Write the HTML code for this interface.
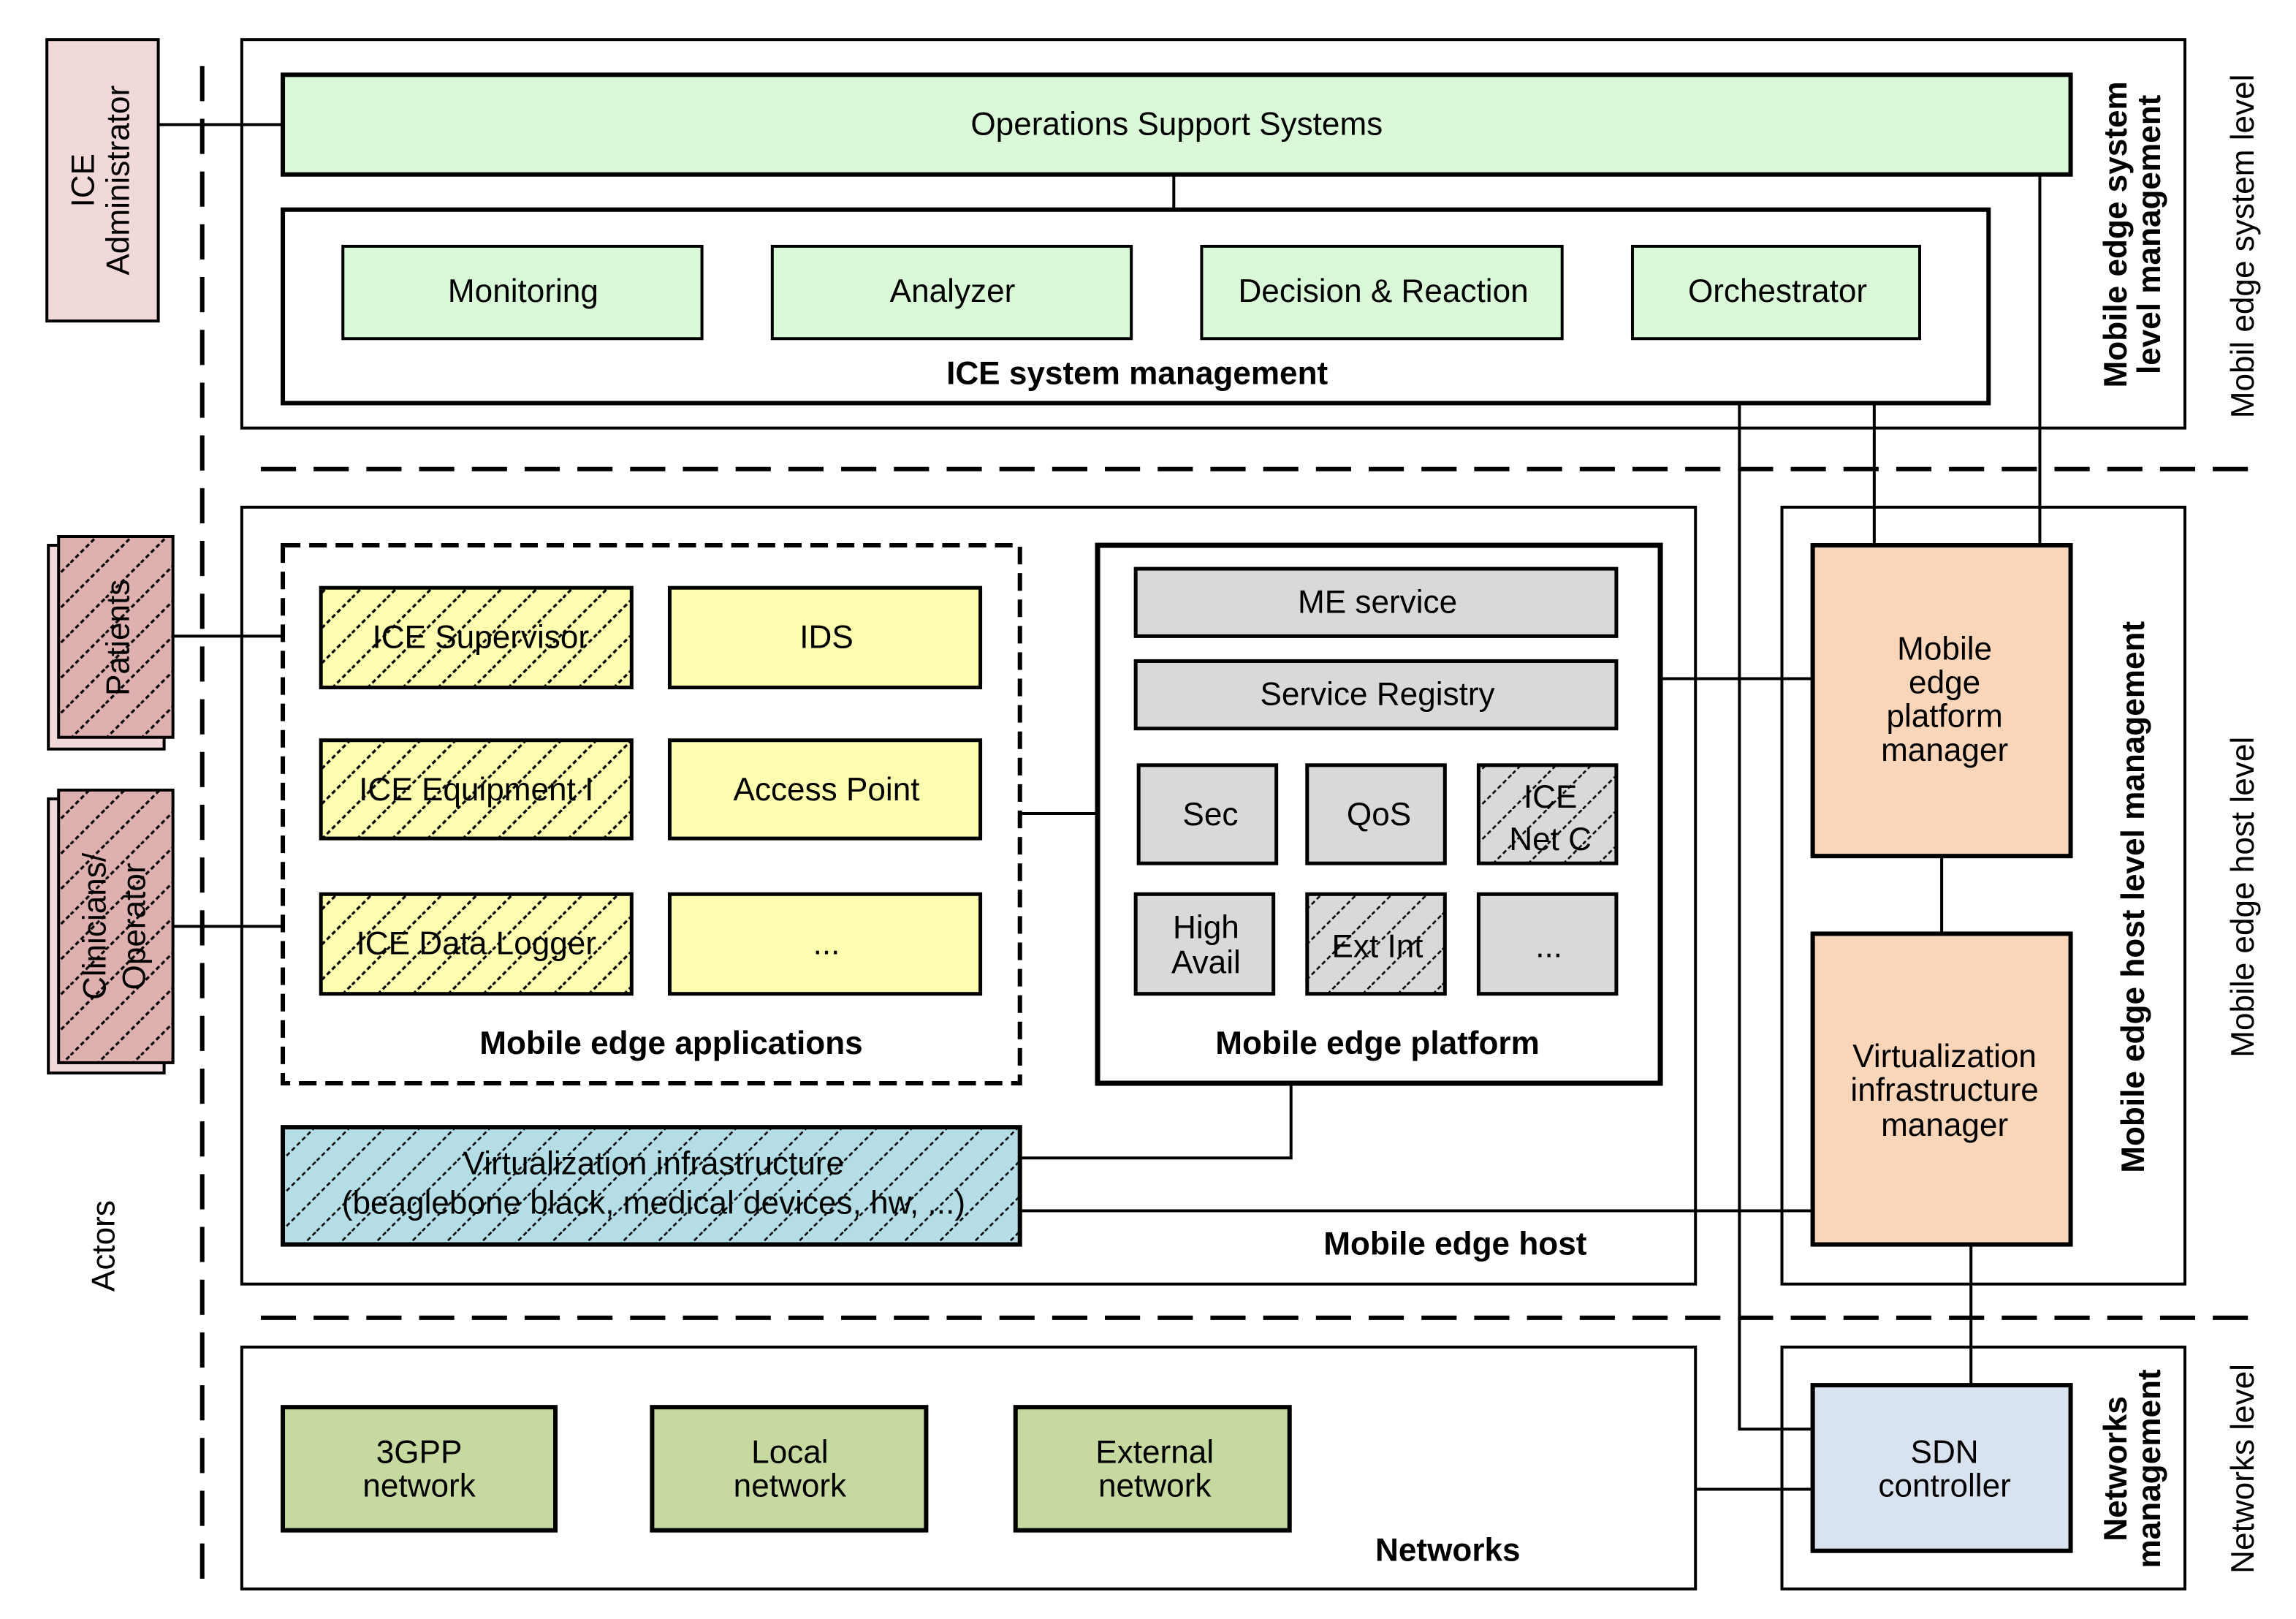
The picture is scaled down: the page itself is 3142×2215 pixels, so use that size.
<!DOCTYPE html>
<html><head><meta charset="utf-8">
<style>
html,body{margin:0;padding:0;background:#fff;}
svg{display:block;}
text{font-family:"Liberation Sans",sans-serif;fill:#000;}
.t{font-size:22px;}
.b{font-size:22px;font-weight:bold;}
</style></head><body>
<svg width="3142" height="2215" viewBox="0 0 1566.8 1104.5" xmlns="http://www.w3.org/2000/svg">
<defs>
<pattern id="hy" width="24" height="24" patternUnits="userSpaceOnUse">
<rect width="24" height="24" fill="#fdfdb0"/>
<path d="M0 24 L24 0" stroke="#000" stroke-width="1.6" stroke-dasharray="3,2"/>
</pattern>
<pattern id="hg" width="24" height="24" patternUnits="userSpaceOnUse">
<rect width="24" height="24" fill="#d9d9d9"/>
<path d="M0 24 L24 0" stroke="#000" stroke-width="1.3" stroke-dasharray="3,2"/>
</pattern>
<pattern id="hb" width="24" height="24" patternUnits="userSpaceOnUse">
<rect width="24" height="24" fill="#b4dde5"/>
<path d="M0 24 L24 0" stroke="#000" stroke-width="1.3" stroke-dasharray="3,2"/>
</pattern>
<pattern id="hp" width="24" height="24" patternUnits="userSpaceOnUse">
<rect width="24" height="24" fill="#dfb0b0"/>
<path d="M0 24 L24 0" stroke="#000" stroke-width="1.6" stroke-dasharray="3,2"/>
</pattern>
</defs>
<g fill="none" stroke="#000" stroke-width="2">
<line x1="138" y1="45" x2="138" y2="1080" stroke-width="3" stroke-dasharray="24,12"/>
<line x1="178" y1="320" x2="1545" y2="320" stroke-width="3" stroke-dasharray="24,12"/>
<line x1="178" y1="899" x2="1545" y2="899" stroke-width="3" stroke-dasharray="24,12"/>
<rect x="165" y="27" width="1326" height="265"/>
<rect x="165" y="346" width="992" height="530"/>
<rect x="1216" y="346" width="275" height="530"/>
<rect x="165" y="919" width="992" height="165"/>
<rect x="1216" y="919" width="275" height="165"/>
<line x1="108" y1="85" x2="193" y2="85"/>
<line x1="801" y1="119" x2="801" y2="143"/>
<line x1="479" y1="199" x2="527" y2="199"/>
<line x1="772" y1="199" x2="820" y2="199"/>
<line x1="1066" y1="199" x2="1114" y2="199"/>
<polyline points="1187,231 1187,975 1237,975"/>
<line x1="1279" y1="231" x2="1279" y2="372"/>
<line x1="1392" y1="119" x2="1392" y2="372"/>
<line x1="118" y1="434" x2="193" y2="434"/>
<line x1="118" y1="632" x2="193" y2="632"/>
<line x1="696" y1="555" x2="749" y2="555"/>
<polyline points="696,790 881,790 881,739"/>
<line x1="696" y1="826" x2="1237" y2="826"/>
<line x1="1133" y1="463" x2="1237" y2="463"/>
<line x1="1325" y1="584" x2="1325" y2="637"/>
<line x1="1345" y1="849" x2="1345" y2="945"/>
<line x1="1157" y1="1016" x2="1237" y2="1016"/>
</g>
<rect x="32" y="27" width="76" height="192" fill="#f2d9d9" stroke="#000" stroke-width="2"/>
<rect x="33" y="372" width="79" height="139" fill="#f2d9d9" stroke="#000" stroke-width="2"/>
<rect x="40" y="366" width="78" height="137" fill="url(#hp)" stroke="#000" stroke-width="2"/>
<rect x="33" y="545" width="79" height="187" fill="#f2d9d9" stroke="#000" stroke-width="2"/>
<rect x="40" y="539" width="78" height="186" fill="url(#hp)" stroke="#000" stroke-width="2"/>
<g class="t" text-anchor="middle">
<text transform="translate(64,123) rotate(-90)">ICE</text>
<text transform="translate(88,123) rotate(-90)">Administrator</text>
<text transform="translate(88,435) rotate(-90)">Patients</text>
<text transform="translate(72,632) rotate(-90)">Clinicians/</text>
<text transform="translate(99,632) rotate(-90)">Operator</text>
<text transform="translate(78,850) rotate(-90)">Actors</text>
</g>
<rect x="193" y="51" width="1220" height="68" fill="#d9f9d9" stroke="#000" stroke-width="3"/>
<text class="t" x="803" y="92" text-anchor="middle">Operations Support Systems</text>
<rect x="193" y="143" width="1164" height="132" fill="#fff" stroke="#000" stroke-width="3"/>
<g fill="#d9f9d9" stroke="#000" stroke-width="2">
<rect x="234" y="168" width="245" height="63"/>
<rect x="527" y="168" width="245" height="63"/>
<rect x="820" y="168" width="246" height="63"/>
<rect x="1114" y="168" width="196" height="63"/>
</g>
<g class="t" text-anchor="middle">
<text x="357" y="206">Monitoring</text>
<text x="650" y="206">Analyzer</text>
<text x="944" y="206">Decision &amp; Reaction</text>
<text x="1213" y="206">Orchestrator</text>
</g>
<text class="b" x="776" y="262" text-anchor="middle">ICE system management</text>
<rect x="193" y="372" width="503" height="367" fill="#fff" stroke="#000" stroke-width="3" stroke-dasharray="12,6"/>
<g stroke="#000" stroke-width="2.5">
<rect x="219" y="401" width="212" height="68" fill="url(#hy)"/>
<rect x="457" y="401" width="212" height="68" fill="#fdfdb0"/>
<rect x="219" y="505" width="212" height="67" fill="url(#hy)"/>
<rect x="457" y="505" width="212" height="67" fill="#fdfdb0"/>
<rect x="219" y="610" width="212" height="68" fill="url(#hy)"/>
<rect x="457" y="610" width="212" height="68" fill="#fdfdb0"/>
</g>
<g class="t" text-anchor="middle">
<text x="328" y="442">ICE Supervisor</text>
<text x="564" y="442">IDS</text>
<text x="325" y="546">ICE Equipment I</text>
<text x="564" y="546">Access Point</text>
<text x="325" y="651">ICE Data Logger</text>
<text x="564" y="651">...</text>
</g>
<text class="b" x="458" y="719" text-anchor="middle">Mobile edge applications</text>
<rect x="749" y="372" width="384" height="367" fill="#fff" stroke="#000" stroke-width="3.5"/>
<g stroke="#000" stroke-width="2.5" fill="#d9d9d9">
<rect x="775" y="388" width="328" height="46"/>
<rect x="775" y="451" width="328" height="46"/>
<rect x="777" y="522" width="94" height="67"/>
<rect x="892" y="522" width="94" height="67"/>
<rect x="1009" y="522" width="94" height="67" fill="url(#hg)"/>
<rect x="775" y="610" width="94" height="68"/>
<rect x="892" y="610" width="94" height="68" fill="url(#hg)"/>
<rect x="1009" y="610" width="94" height="68"/>
</g>
<g class="t" text-anchor="middle">
<text x="940" y="418">ME service</text>
<text x="940" y="481">Service Registry</text>
<text x="826" y="563">Sec</text>
<text x="941" y="563">QoS</text>
<text x="1058" y="551">ICE</text>
<text x="1058" y="580">Net C</text>
<text x="823" y="640">High</text>
<text x="823" y="664">Avail</text>
<text x="940" y="653">Ext Int</text>
<text x="1057" y="653">...</text>
</g>
<text class="b" x="940" y="719" text-anchor="middle">Mobile edge platform</text>
<rect x="193" y="769" width="503" height="80" fill="url(#hb)" stroke="#000" stroke-width="3"/>
<g class="t" text-anchor="middle">
<text x="446" y="801">Virtualization infrastructure</text>
<text x="446" y="828">(beaglebone black, medical devices, hw, ...)</text>
</g>
<text class="b" x="993" y="856" text-anchor="middle">Mobile edge host</text>
<rect x="1237" y="372" width="176" height="212" fill="#f9d5b9" stroke="#000" stroke-width="3"/>
<rect x="1237" y="637" width="176" height="212" fill="#f9d5b9" stroke="#000" stroke-width="3"/>
<g class="t" text-anchor="middle">
<text x="1327" y="450">Mobile</text>
<text x="1327" y="473">edge</text>
<text x="1327" y="496">platform</text>
<text x="1327" y="519">manager</text>
<text x="1327" y="728">Virtualization</text>
<text x="1327" y="751">infrastructure</text>
<text x="1327" y="775">manager</text>
</g>
<g stroke="#000" stroke-width="3" fill="#c6d9a0">
<rect x="193" y="960" width="186" height="84"/>
<rect x="445" y="960" width="187" height="84"/>
<rect x="693" y="960" width="187" height="84"/>
</g>
<rect x="1237" y="945" width="176" height="113" fill="#d9e2ef" stroke="#000" stroke-width="3"/>
<g class="t" text-anchor="middle">
<text x="286" y="998">3GPP</text>
<text x="286" y="1021">network</text>
<text x="539" y="998">Local</text>
<text x="539" y="1021">network</text>
<text x="788" y="998">External</text>
<text x="788" y="1021">network</text>
<text x="1327" y="998">SDN</text>
<text x="1327" y="1021">controller</text>
</g>
<text class="b" x="988" y="1065" text-anchor="middle">Networks</text>
<g class="b" text-anchor="middle">
<text transform="translate(1451,160) rotate(-90)">Mobile edge system</text>
<text transform="translate(1474,160) rotate(-90)">level management</text>
<text transform="translate(1463,612) rotate(-90)">Mobile edge host level management</text>
<text transform="translate(1451,1002) rotate(-90)">Networks</text>
<text transform="translate(1474,1002) rotate(-90)">management</text>
</g>
<g class="t" text-anchor="middle">
<text transform="translate(1538,168) rotate(-90)">Mobil edge system level</text>
<text transform="translate(1538,612) rotate(-90)">Mobile edge host level</text>
<text transform="translate(1538,1002) rotate(-90)">Networks level</text>
</g>
</svg>
</body></html>
